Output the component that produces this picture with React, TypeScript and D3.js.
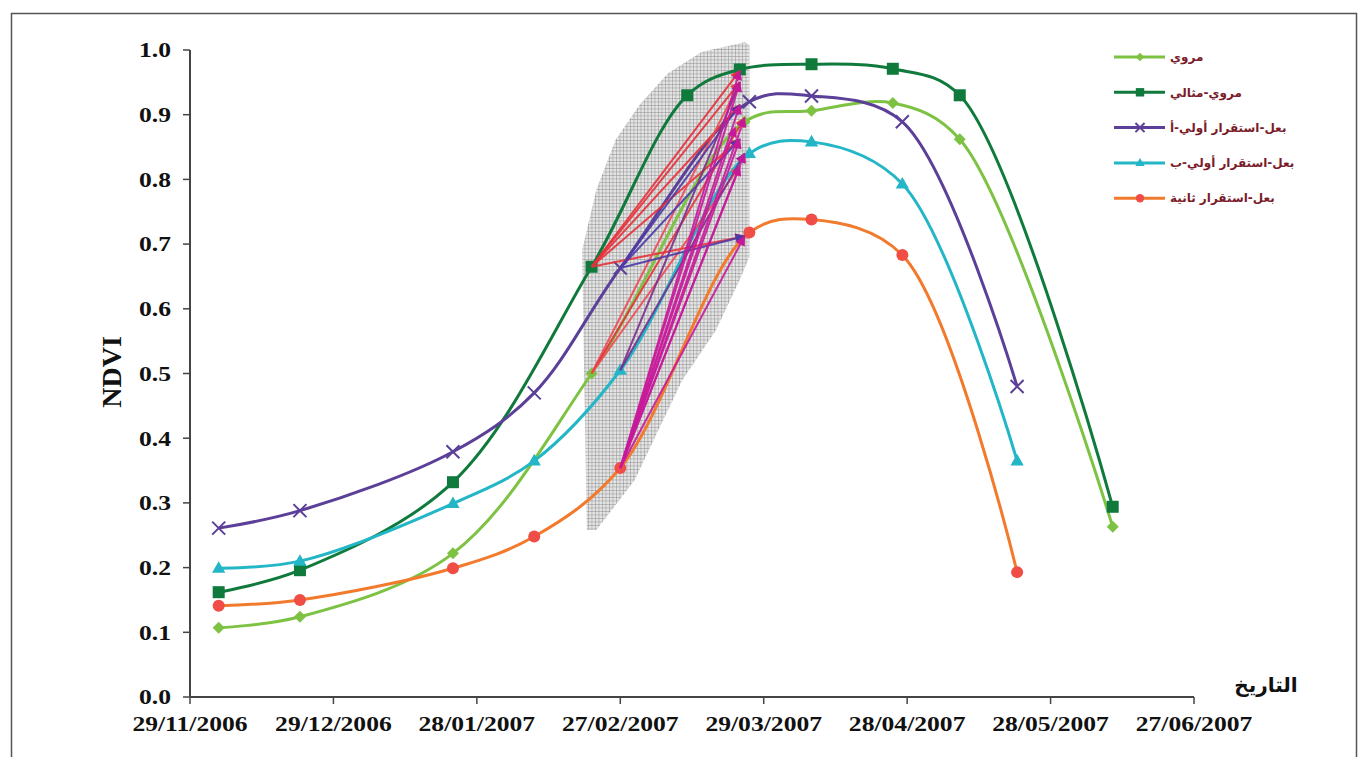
import React from 'react';
import * as d3 from 'd3';

// ---------- DATA ----------
const tickDates = ["2006-11-29", "2006-12-29", "2007-01-28", "2007-02-27", "2007-03-29", "2007-04-28", "2007-05-28", "2007-06-27"];
const yTicks = [0, 0.1, 0.2, 0.3, 0.4, 0.5, 0.6, 0.7, 0.8, 0.9, 1.0];

const seriesNames = ["مروي", "مروي-مثالي", "بعل-استقرار أولي-أ", "بعل-استقرار أولي-ب", "بعل-استقرار ثانية"];

const irrigatedDates = ["2006-12-05", "2006-12-22", "2007-01-23", "2007-02-21", "2007-03-25", "2007-04-08", "2007-04-25", "2007-05-09", "2007-06-10"];
const irrigatedValues = [0.107, 0.124, 0.222, 0.500, 0.889, 0.906, 0.918, 0.862, 0.263];

const optimalDates = ["2006-12-05", "2006-12-22", "2007-01-23", "2007-02-21", "2007-03-13", "2007-03-24", "2007-04-08", "2007-04-25", "2007-05-09", "2007-06-10"];
const optimalValues = [0.162, 0.196, 0.332, 0.665, 0.930, 0.970, 0.978, 0.971, 0.930, 0.294];

const rainfedDates = ["2006-12-05", "2006-12-22", "2007-01-23", "2007-02-09", "2007-02-27", "2007-03-26", "2007-04-08", "2007-04-27", "2007-05-21"];
const rainfedAValues = [0.261, 0.288, 0.379, 0.470, 0.663, 0.920, 0.929, 0.889, 0.480];
const rainfedBValues = [0.199, 0.210, 0.299, 0.365, 0.505, 0.840, 0.858, 0.793, 0.365];
const rainfedSecondValues = [0.141, 0.150, 0.199, 0.248, 0.354, 0.718, 0.738, 0.683, 0.193];

// shaded transition zone outline (date, NDVI)
const zoneDates = ["2007-02-20", "2007-02-19", "2007-02-22", "2007-02-26", "2007-03-03", "2007-03-09", "2007-03-16", "2007-03-25", "2007-03-26", "2007-03-26", "2007-03-24", "2007-03-19", "2007-03-12", "2007-03-07", "2007-03-02", "2007-02-22"];
const zoneValues = [0.258, 0.690, 0.784, 0.861, 0.915, 0.964, 0.997, 1.012, 1.008, 0.680, 0.645, 0.567, 0.490, 0.413, 0.335, 0.258];

// transition arrows
const arrowFromDates = [
  "2007-02-21", "2007-02-21", "2007-02-21", "2007-02-21", "2007-02-21",
  "2007-02-21", "2007-02-21", "2007-02-21",
  "2007-02-27", "2007-02-27", "2007-02-27",
  "2007-02-27", "2007-02-27",
  "2007-02-27", "2007-02-27", "2007-02-27", "2007-02-27", "2007-02-27", "2007-02-27", "2007-02-27", "2007-02-27", "2007-02-27"
];
const arrowFromValues = [
  0.665, 0.665, 0.665, 0.665, 0.665,
  0.500, 0.500, 0.500,
  0.663, 0.663, 0.663,
  0.505, 0.505,
  0.354, 0.354, 0.354, 0.354, 0.354, 0.354, 0.354, 0.354, 0.354
];
const arrowToDates = [
  "2007-03-24", "2007-03-24", "2007-03-24", "2007-03-25", "2007-03-24",
  "2007-03-24", "2007-03-25", "2007-03-24",
  "2007-03-24", "2007-03-24", "2007-03-25",
  "2007-03-24", "2007-03-25",
  "2007-03-24", "2007-03-24", "2007-03-24", "2007-03-25", "2007-03-24", "2007-03-25", "2007-03-24", "2007-03-25", "2007-03-23"
];
const arrowToValues = [
  0.968, 0.915, 0.862, 0.712, 0.950,
  0.950, 0.895, 0.820,
  0.915, 0.862, 0.712,
  0.950, 0.840,
  0.968, 0.950, 0.915, 0.895, 0.862, 0.840, 0.820, 0.712, 0.880
];
const arrowColors = [
  "#e8303a", "#e8303a", "#e8303a", "#e8303a", "#e8303a",
  "#ee4a55", "#e8303a", "#ee4a55",
  "#4b3aa8", "#4b3aa8", "#4b3aa8",
  "#7b2d8e", "#7b2d8e",
  "#c8189a", "#c8189a", "#c8189a", "#c8189a", "#c8189a", "#c8189a", "#c8189a", "#c8189a", "#c8189a"
];

// ---------- CHART ----------
const parse = d3.utcParse("%Y-%m-%d");
const fmt = d3.utcFormat("%d/%m/%Y");

const x = d3.scaleUtc()
  .domain([parse(tickDates[0])!, parse(tickDates[tickDates.length - 1])!])
  .range([190, 1194]);
const y = d3.scaleLinear().domain([0, 1]).range([697, 50]);

type Pt = { d: Date; v: number };
const zip = (ds: string[], vs: number[]): Pt[] => ds.map((d, i) => ({ d: parse(d)!, v: vs[i] }));

const series = [
  { name: seriesNames[0], color: "#7dc242", mcolor: "#7dc242", marker: "diamond", pts: zip(irrigatedDates, irrigatedValues) },
  { name: seriesNames[1], color: "#0f7a3c", mcolor: "#0f7a3c", marker: "square", pts: zip(optimalDates, optimalValues) },
  { name: seriesNames[2], color: "#5b3f98", mcolor: "#5b3f98", marker: "x", pts: zip(rainfedDates, rainfedAValues) },
  { name: seriesNames[3], color: "#22b6c6", mcolor: "#22b6c6", marker: "triangle", pts: zip(rainfedDates, rainfedBValues) },
  { name: seriesNames[4], color: "#f27a2c", mcolor: "#ef4d45", marker: "circle", pts: zip(rainfedDates, rainfedSecondValues) },
];

const line = d3.line<Pt>().x(p => x(p.d)).y(p => y(p.v)).curve(d3.curveCatmullRom.alpha(0.5));

function Marker({ kind, cx, cy, color, s = 1 }: { kind: string; cx: number; cy: number; color: string; s?: number }) {
  if (kind === "diamond") {
    const r = 6 * s;
    return <path d={`M${cx},${cy - r}L${cx + r},${cy}L${cx},${cy + r}L${cx - r},${cy}Z`} fill={color} />;
  }
  if (kind === "square") {
    const r = 6 * s;
    return <rect x={cx - r} y={cy - r} width={2 * r} height={2 * r} fill={color} />;
  }
  if (kind === "x") {
    const r = 6.5 * s;
    return <path d={`M${cx - r},${cy - r}L${cx + r},${cy + r}M${cx - r},${cy + r}L${cx + r},${cy - r}`} stroke={color} strokeWidth={2} fill="none" />;
  }
  if (kind === "triangle") {
    const r = 7 * s;
    return <path d={`M${cx},${cy - r}L${cx + r * 0.95},${cy + r * 0.65}L${cx - r * 0.95},${cy + r * 0.65}Z`} fill={color} />;
  }
  return <circle cx={cx} cy={cy} r={6 * s} fill={color} />;
}

export default function App() {
  const zone = zoneDates.map((d, i) => [x(parse(d)!), y(zoneValues[i])] as [number, number]);
  const zonePath = d3.line().curve(d3.curveLinearClosed)(zone) || "";
  const arrowColorSet = Array.from(new Set(arrowColors));
  const tickFont = "'Liberation Serif', 'Times New Roman', serif";

  return (
    <svg width={1369} height={757} style={{ position: "absolute", left: 0, top: 0, background: "#fff" }}>
      <defs>
        <pattern id="hatch" width={3.5} height={3.5} patternUnits="userSpaceOnUse">
          <rect width={3.5} height={3.5} fill="#e4e4e4" />
          <path d="M0,0H3.5M0,0V3.5" stroke="#7e7e7e" strokeWidth={0.8} />
        </pattern>
        {arrowColorSet.map((c, i) => (
          <marker key={c} id={`ah${i}`} viewBox="0 0 10 10" refX={9} refY={5} markerWidth={13} markerHeight={10}
            markerUnits="userSpaceOnUse" orient="auto">
            <path d="M0,0L10,5L0,10Z" fill={c} />
          </marker>
        ))}
      </defs>

      <rect x={11.5} y={13.5} width={1345} height={760} fill="none" stroke="#555" strokeWidth={1.5} />

      {/* shaded zone */}
      <path d={zonePath} fill="url(#hatch)" />

      {/* axes */}
      <line x1={190} x2={190} y1={y(1)} y2={y(0)} stroke="#444" strokeWidth={2} />
      <line x1={190} x2={x(parse(tickDates[tickDates.length - 1])!)} y1={y(0)} y2={y(0)} stroke="#444" strokeWidth={2} />
      {yTicks.map(t => (
        <g key={t}>
          <line x1={183} x2={190} y1={y(t)} y2={y(t)} stroke="#444" strokeWidth={1.5} />
          <text transform={`translate(171,${y(t)}) scale(1.22,1)`} dy="0.35em" textAnchor="end" fontFamily={tickFont} fontWeight="bold" fontSize={21} fill="#111">
            {t.toFixed(1)}
          </text>
        </g>
      ))}
      {tickDates.map(t => {
        const px = x(parse(t)!);
        return (
          <g key={t}>
            <line x1={px} x2={px} y1={y(0)} y2={y(0) + 7} stroke="#444" strokeWidth={1.5} />
            <text transform={`translate(${px},731) scale(1.22,1)`} textAnchor="middle" fontFamily={tickFont} fontWeight="bold" fontSize={21} fill="#111">
              {fmt(parse(t)!)}
            </text>
          </g>
        );
      })}
      <text transform={`translate(121,372) rotate(-90)`} textAnchor="middle" fontFamily={tickFont} fontWeight="bold" fontSize={28} fill="#111">NDVI</text>
      <text x={1266} y={692} textAnchor="middle" fontFamily="'DejaVu Sans', sans-serif" fontWeight="bold" fontSize={20} fill="#111">التاريخ</text>

      {/* series lines */}
      {series.map(s => (
        <path key={s.name} d={line(s.pts) || ""} fill="none" stroke={s.color} strokeWidth={3} />
      ))}
      {/* markers */}
      {series.map(s => (
        <g key={s.name + "m"}>
          {s.pts.map((p, i) => (
            <Marker key={i} kind={s.marker} cx={x(p.d)} cy={y(p.v)} color={s.mcolor} />
          ))}
        </g>
      ))}

      {/* transition arrows */}
      {arrowFromDates.map((d, i) => (
        <line key={i}
          x1={x(parse(d)!)} y1={y(arrowFromValues[i])}
          x2={x(parse(arrowToDates[i])!)} y2={y(arrowToValues[i])}
          stroke={arrowColors[i]} strokeWidth={2} strokeOpacity={0.9}
          markerEnd={`url(#ah${arrowColorSet.indexOf(arrowColors[i])})`} />
      ))}

      {/* legend */}
      {series.map((s, i) => {
        const ly = 57 + i * 35.3;
        return (
          <g key={s.name + "l"}>
            <line x1={1114} x2={1165} y1={ly} y2={ly} stroke={s.color} strokeWidth={3} />
            <Marker kind={s.marker} cx={1140} cy={ly} color={s.mcolor} s={0.7} />
            <text x={1170} y={ly} dy="0.35em" textAnchor="start" fontFamily="'DejaVu Sans', sans-serif" fontWeight="bold" fontSize={12} fill="#7a1c2a">
              {s.name}
            </text>
          </g>
        );
      })}
    </svg>
  );
}
